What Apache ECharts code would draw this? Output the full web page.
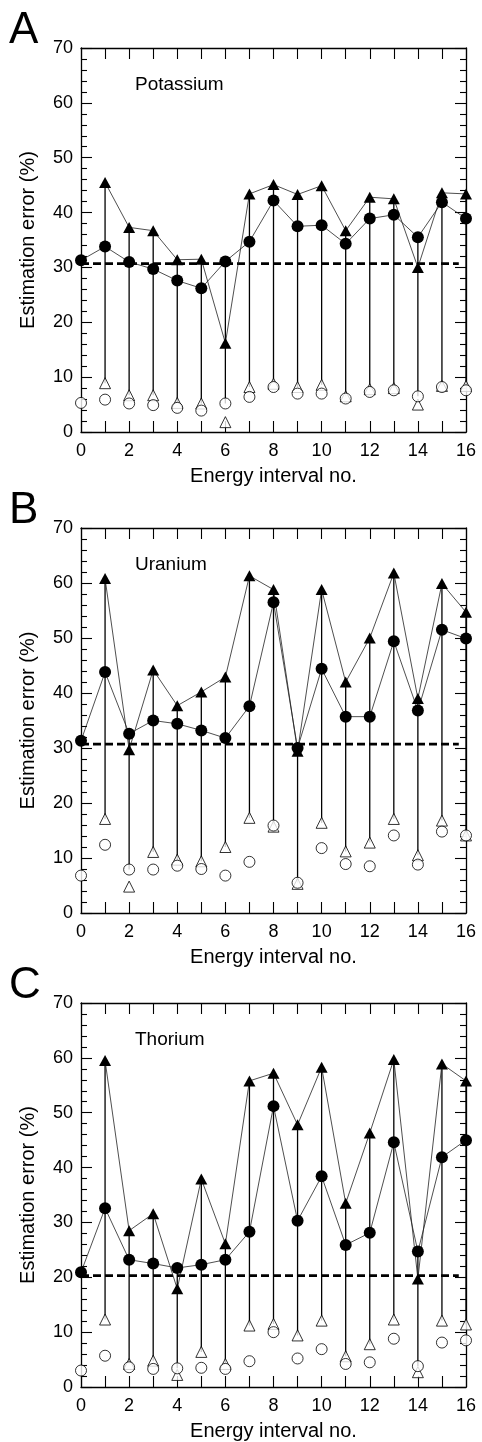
<!DOCTYPE html>
<html>
<head>
<meta charset="utf-8">
<script src="https://cdn.jsdelivr.net/npm/echarts@6/dist/echarts.min.js"></script>
<style>
  html, body { margin: 0; background: #fff; }
  #chart { width: 482px; height: 1442px; }
</style>
</head>
<body>
<div id="chart"></div>
<script>
// energy interval no. 0..16 (triangles start at 1)
const intervals = [0, 1, 2, 3, 4, 5, 6, 7, 8, 9, 10, 11, 12, 13, 14, 15, 16]
const xTicks = [0, 2, 4, 6, 8, 10, 12, 14, 16]
const yTicks = [0, 10, 20, 30, 40, 50, 60, 70]

// A - Potassium
const potTriFilled = [null, 45.5, 37.3, 36.7, 31.4, 31.5, 16.2, 43.4, 45.1, 43.3, 44.9, 36.7, 42.8, 42.5, 30.0, 43.6, 43.4]
const potCircFilled = [31.3, 33.8, 31.0, 29.7, 27.6, 26.2, 31.1, 34.7, 42.2, 37.5, 37.7, 34.3, 38.9, 39.6, 35.5, 41.9, 38.9]
const potTriOpen = [null, 8.9, 6.7, 6.7, 5.3, 5.2, 1.8, 8.2, 8.8, 8.2, 8.6, 6.5, 7.8, 8.0, 5.0, 8.4, 8.4]
const potCircOpen = [5.3, 5.9, 5.2, 4.9, 4.4, 3.9, 5.2, 6.4, 8.2, 7.0, 7.0, 6.1, 7.3, 7.6, 6.5, 8.2, 7.6]
const potBase = 30.7

// B - Uranium
const uraTriFilled = [null, 60.8, 29.7, 44.2, 37.7, 40.2, 42.9, 61.3, 58.8, 29.4, 58.8, 42.0, 50.0, 61.8, 39.0, 59.9, 54.7]
const uraCircFilled = [31.3, 43.8, 32.6, 35.0, 34.4, 33.2, 31.8, 37.6, 56.5, 30.0, 44.4, 35.7, 35.7, 49.4, 36.8, 51.5, 49.9]
const uraTriOpen = [null, 17.1, 4.8, 11.1, 9.7, 9.4, 12.0, 17.3, 15.7, 5.3, 16.4, 11.2, 12.8, 17.1, 10.5, 16.8, 14.1]
const uraCircOpen = [6.8, 12.4, 7.9, 7.9, 8.6, 8.0, 6.8, 9.3, 15.9, 5.5, 11.8, 8.9, 8.5, 14.1, 8.8, 14.8, 14.1]
const uraBase = 30.7

// C - Thorium
const thoTriFilled = [null, 59.5, 28.5, 31.6, 17.9, 37.9, 26.1, 55.8, 57.2, 47.8, 58.3, 33.5, 46.3, 59.7, 19.7, 58.9, 55.8]
const thoCircFilled = [20.9, 32.6, 23.2, 22.5, 21.7, 22.3, 23.2, 28.3, 51.2, 30.3, 38.4, 25.9, 28.1, 44.6, 24.7, 41.9, 45.0]
const thoTriOpen = [null, 12.3, 4.2, 4.8, 2.2, 6.4, 4.2, 11.2, 11.5, 9.4, 12.1, 5.6, 7.8, 12.3, 2.7, 12.1, 11.4]
const thoCircOpen = [3.0, 5.7, 3.6, 3.3, 3.4, 3.5, 3.3, 4.7, 10.0, 5.2, 6.9, 4.2, 4.5, 8.8, 3.8, 8.1, 8.5]
const thoBase = 20.3

// the dashed reference line stops a bit short of the right axis
const baseFrom = 0
const baseTo = 15.7

const panels = [
  { letter: 'A', name: 'Potassium', tri: potTriFilled, circ: potCircFilled, triO: potTriOpen, circO: potCircOpen, base: potBase, top: 48, height: 384 },
  { letter: 'B', name: 'Uranium', tri: uraTriFilled, circ: uraCircFilled, triO: uraTriOpen, circO: uraCircOpen, base: uraBase, top: 528, height: 385 },
  { letter: 'C', name: 'Thorium', tri: thoTriFilled, circ: thoCircFilled, triO: thoTriOpen, circO: thoCircOpen, base: thoBase, top: 1003, height: 384 },
]

const FONT = '"Liberation Sans", Arial, sans-serif'
const black = '#000'
const pairs = (arr) => intervals.map((x, i) => [x, arr[i]])

const chart = echarts.init(document.getElementById('chart'))

const grid = [], xAxis = [], yAxis = [], series = [], graphic = []

panels.forEach((p, i) => {
  grid.push({ left: 81, width: 385, top: p.top, height: p.height })

  const frame = { show: true, onZero: false, lineStyle: { color: black, width: 1.3 } }
  const tick = { show: true, inside: true, length: 11, lineStyle: { color: black, width: 1.1 } }
  const xBase = {
    gridIndex: i, type: 'value', min: xTicks[0], max: xTicks[xTicks.length - 1], interval: 2,
    axisLine: frame, axisTick: tick,
    minorTick: { show: true, splitNumber: 2, length: 11, lineStyle: { color: black, width: 1.1 } },
    splitLine: { show: false },
  }
  xAxis.push({
    ...xBase, position: 'bottom',
    axisLabel: { fontSize: 18, color: black, fontFamily: FONT, margin: 10 },
    name: 'Energy interval no.', nameLocation: 'middle', nameGap: 34,
    nameTextStyle: { fontSize: 20, color: black, fontFamily: FONT },
  })
  xAxis.push({ ...xBase, position: 'top', axisLabel: { show: false } })

  const yBase = {
    gridIndex: i, type: 'value', min: yTicks[0], max: yTicks[yTicks.length - 1], interval: 10,
    axisLine: frame, axisTick: tick,
    minorTick: { show: true, splitNumber: 5, length: 6, lineStyle: { color: black, width: 1.1 } },
    splitLine: { show: false },
  }
  yAxis.push({ ...yBase, position: 'left', axisLabel: { fontSize: 18, color: black, fontFamily: FONT, margin: 8 } })
  yAxis.push({ ...yBase, position: 'right', axisLabel: { show: false } })

  const ax = { xAxisIndex: 2 * i, yAxisIndex: 2 * i }

  series.push({
    ...ax, type: 'line', z: 1, silent: true, symbol: 'none',
    data: [[baseFrom, p.base], [baseTo, p.base]],
    lineStyle: { color: black, width: 2.6, type: [8, 4] },
  })

  // vertical bars from the higher filled marker down to the higher open marker
  const bars = []
  intervals.forEach((x, k) => {
    if (p.tri[k] == null) return
    bars.push([x, Math.max(p.tri[k], p.circ[k]), Math.max(p.triO[k], p.circO[k])])
  })
  series.push({
    ...ax, type: 'custom', z: 2, data: bars,
    encode: { x: 0, y: [1, 2] },
    renderItem: (params, api) => {
      const a = api.coord([api.value(0), api.value(1)])
      const b = api.coord([api.value(0), api.value(2)])
      return { type: 'line', shape: { x1: a[0], y1: a[1], x2: b[0], y2: b[1] }, style: { stroke: black, lineWidth: 1.3 } }
    },
  })

  series.push({
    ...ax, type: 'line', z: 3, data: pairs(p.tri), symbol: 'triangle', symbolSize: [12, 11],
    showAllSymbol: true, itemStyle: { color: black }, lineStyle: { color: '#222', width: 0.8 },
  })
  series.push({
    ...ax, type: 'line', z: 3, data: pairs(p.circ), symbol: 'circle', symbolSize: 12,
    showAllSymbol: true, itemStyle: { color: black }, lineStyle: { color: '#222', width: 0.8 },
  })
  series.push({
    ...ax, type: 'scatter', z: 4, data: pairs(p.triO).filter(d => d[1] != null), symbol: 'triangle', symbolSize: 11,
    itemStyle: { color: '#fff', borderColor: black, borderWidth: 1 },
  })
  series.push({
    ...ax, type: 'scatter', z: 4, data: pairs(p.circO), symbol: 'circle', symbolSize: 11,
    itemStyle: { color: '#fff', borderColor: black, borderWidth: 1 },
  })

  graphic.push({
    type: 'text', x: 9, y: p.top - 17,
    style: { text: p.letter, font: '44px ' + FONT, fill: black, textVerticalAlign: 'middle', verticalAlign: 'middle' },
  })
  graphic.push({
    type: 'text', x: 135, y: p.top + 37,
    style: { text: p.name, font: '19px ' + FONT, fill: black, textVerticalAlign: 'middle', verticalAlign: 'middle' },
  })
  graphic.push({
    type: 'text', x: 28, y: p.top + p.height / 2, rotation: Math.PI / 2,
    style: {
      text: 'Estimation error (%)', font: '20px ' + FONT, fill: black,
      textAlign: 'center', align: 'center', textVerticalAlign: 'middle', verticalAlign: 'middle',
    },
  })
})

chart.setOption({ animation: false, grid, xAxis, yAxis, series, graphic })
</script>
</body>
</html>
